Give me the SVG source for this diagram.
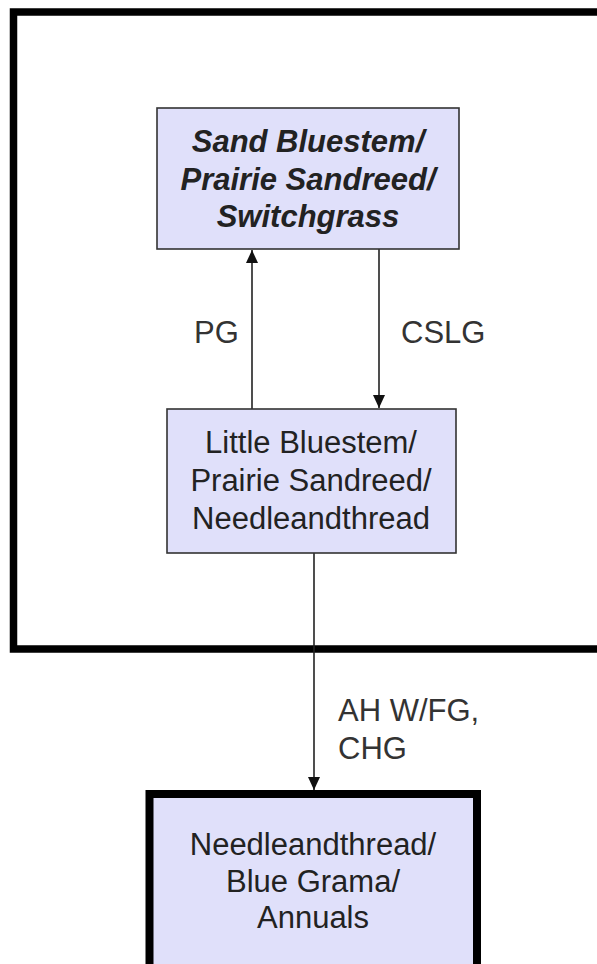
<svg xmlns="http://www.w3.org/2000/svg" width="597" height="964" viewBox="0 0 597 964">
  <style>
    .box { fill: #e0e0fa; stroke: #333; stroke-width: 1.6; }
    .thick { fill: #e0e0fa; stroke: #000; stroke-width: 8; }
    .frame { fill: none; stroke: #000; stroke-width: 7.5; }
    .t { font-family: "Liberation Sans", Arial, sans-serif; font-size: 31px; fill: #222; text-anchor: middle; }
    .bi { font-weight: bold; font-style: italic; }
    .lbl { font-family: "Liberation Sans", Arial, sans-serif; font-size: 31px; fill: #333; }
    .conn { stroke: #222; stroke-width: 1.6; fill: none; marker-end: url(#arr); }
  </style>
  <defs>
    <marker id="arr" markerUnits="userSpaceOnUse" markerWidth="13" markerHeight="12" refX="13" refY="6" orient="auto">
      <path d="M0,0 L13,6 L0,12 z" fill="#111"/>
    </marker>
  </defs>
  <rect width="597" height="964" fill="#fff"/>
  <path class="frame" d="M640,12 H13.5 V649 H640"/>

  <g id="connectors">
    <line class="conn" x1="252" y1="409" x2="252" y2="250"/>
    <line class="conn" x1="379" y1="249" x2="379" y2="408"/>
    <line class="conn" x1="314" y1="553" x2="314" y2="790"/>
    <text class="lbl" x="194" y="343">PG</text>
    <text class="lbl" x="401" y="343">CSLG</text>
    <text class="lbl" x="338" y="721">AH W/FG,</text>
    <text class="lbl" x="338" y="759">CHG</text>
  </g>

  <g id="node-sand">
    <rect class="box" x="157" y="108" width="302" height="141"/>
    <text class="t bi" x="308" y="152">Sand Bluestem/</text>
    <text class="t bi" x="308" y="190">Prairie Sandreed/</text>
    <text class="t bi" x="308" y="227">Switchgrass</text>
  </g>

  <g id="node-little">
    <rect class="box" x="167" y="409" width="289" height="144"/>
    <text class="t" x="311" y="453">Little Bluestem/</text>
    <text class="t" x="311" y="491">Prairie Sandreed/</text>
    <text class="t" x="311" y="529">Needleandthread</text>
  </g>

  <g id="node-needle">
    <rect class="thick" x="149.5" y="794" width="327.5" height="200"/>
    <text class="t" x="313" y="855">Needleandthread/</text>
    <text class="t" x="313" y="892">Blue Grama/</text>
    <text class="t" x="313" y="928">Annuals</text>
  </g>
</svg>
